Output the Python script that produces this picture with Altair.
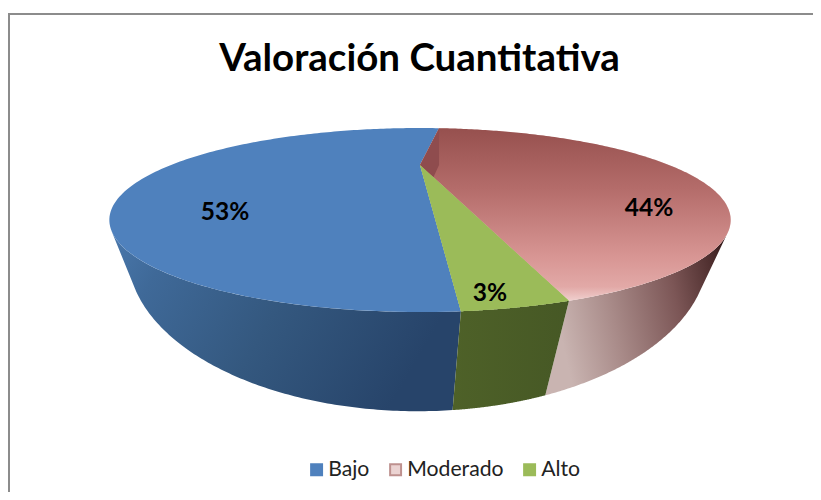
import numpy as np
import pandas as pd
import altair as alt

TITLE = "Valoración Cuantitativa"
CATEGORIES = ["Bajo", "Moderado", "Alto"]
SHARES = [53, 44, 3]
SHARE_LABELS = ["53%", "44%", "3%"]

W, H = 805, 484
# camera of the tilted pie: upper rim and lower rim
CX, CY, A, B, K = 420.0, 165.0, 249.0, 59.1, 0.598
LOW_CX, LOW_CY, LOW_A, LOW_B, LOW_K = 418.0, 171.0, 246.0, 112.9, 0.53
START = 7.0  # where Moderado begins, clockwise from the far side


def top(theta):
    t = np.radians(theta)
    w = 1 + K * np.cos(t)
    return CX + A * np.sin(t) / w, CY - B * np.cos(t) / w


def bottom(theta):
    t = np.radians(theta)
    w = 1 + LOW_K * np.cos(t)
    return LOW_CX + LOW_A * np.sin(t) / w, LOW_CY - LOW_B * np.cos(t) / w


def frame(xs, ys):
    return pd.DataFrame({"x": xs, "y": ys, "i": range(len(xs))})


def arc(a0, a1, n=120):
    return np.linspace(a0, a1, n)


# slice angles from the shares, clockwise order: Moderado, Alto, Bajo
mod_a0 = START
mod_a1 = mod_a0 + SHARES[1] * 3.6
alt_a1 = mod_a1 + SHARES[2] * 3.6
baj_a1 = alt_a1 + SHARES[0] * 3.6


def wedge(a0, a1):
    xs, ys = top(arc(a0, a1, 160))
    return frame(np.r_[CX, xs], np.r_[CY, ys])


def wall(t0, t1, b0, b1):
    xt, yt = top(arc(t0, t1))
    xb, yb = bottom(arc(b0, b1))
    return frame(np.r_[xt, xb[::-1]], np.r_[yt, yb[::-1]])


def silhouette(nx):
    """Common tangent of both rims on the side that the normal (nx, 0) faces."""
    grid = np.linspace(0, 360, 3601)
    n = np.array([nx, 0.0])
    for _ in range(12):
        tx, ty = top(grid)
        bx, by = bottom(grid)
        t1 = grid[np.argmax(n[0] * tx + n[1] * ty)]
        t2 = grid[np.argmax(n[0] * bx + n[1] * by)]
        p1, p2 = np.array(top(t1)), np.array(bottom(t2))
        d = (p2 - p1) / np.linalg.norm(p2 - p1)
        n = np.array([d[1], -d[0]])
        if n[0] * nx < 0:
            n = -n
    return t1, t2


right_t, right_b = silhouette(1.0)
left_t, left_b = silhouette(-1.0)


def grad(stops, x1=0, y1=0, x2=1, y2=0):
    return alt.LinearGradient(
        gradient="linear", x1=x1, y1=y1, x2=x2, y2=y2,
        stops=[alt.GradientStop(offset=o, color=c) for o, c in stops],
    )


X_SCALE = alt.Scale(domain=[8, 8 + W])
Y_SCALE = alt.Scale(domain=[8 + H, 8])
X = alt.X("x:Q", scale=X_SCALE, axis=None)
Y = alt.Y("y:Q", scale=Y_SCALE, axis=None)


def poly(df, fill):
    return alt.Chart(df).mark_line(fill=fill, strokeWidth=0, clip=False).encode(
        x=X, y=Y, order=alt.Order("i:Q"))


blue_wall = poly(wall(alt_a1, left_t, alt_a1, left_b),
                 grad([(0, "#27446A"), (0.45, "#34587F"), (0.82, "#3F6998"), (1, "#4A78AC")], 1, 0.3, 0, 0))
red_wall = poly(wall(right_t, mod_a1, right_b, mod_a1),
                grad([(0, "#2E1616"), (0.12, "#4E2E2E"), (0.35, "#7C5656"), (0.7, "#A88A88"), (1, "#C9B4B1")], 1, 0, 0, 0.2))
green_wall = poly(wall(mod_a1, alt_a1, mod_a1, alt_a1), grad([(0, "#4E6128"), (1, "#465825")]))

# top faces carry the legend colours
tops = []
for name, (a0, a1) in zip(CATEGORIES, [(alt_a1, baj_a1), (mod_a0, mod_a1), (mod_a1, alt_a1)]):
    d = wedge(a0, a1)
    d["name"] = name
    tops.append(d)
top_df = pd.concat(tops)
legend = alt.Legend(
    title=None, orient="none", legendX=298, legendY=451, direction="horizontal",
    columns=3, symbolType="square", symbolSize=120, symbolStrokeWidth=2,
    labelFont="Lato", labelFontSize=21.2, labelColor="#222222",
    columnPadding=15, labelOffset=1,
)
top_faces = alt.Chart(top_df).mark_line(strokeWidth=0, clip=False).encode(
    x=X, y=Y, order=alt.Order("i:Q"),
    fill=alt.Fill("name:N", scale=alt.Scale(domain=CATEGORIES, range=["#4F81BD", "#EBD3D2", "#9BBB59"]), legend=legend),
    stroke=alt.Stroke("name:N", scale=alt.Scale(domain=CATEGORIES, range=["#4F81BD", "#BE918F", "#9BBB59"]), legend=legend),
)

red_grad = poly(
    wedge(mod_a0, mod_a1),
    grad([(0, "#96504E"), (0.35, "#B46C6A"), (0.75, "#D89694"), (0.92, "#E2A9A7"), (1, "#F0CFCE")], 0.5, 0, 0.5, 1),
)

# dark inner wall of the Moderado slice, next to the apex
rim_x, rim_y = top(mod_a0)
end_x, end_y = top(mod_a1)
inner = poly(
    frame([CX, rim_x, rim_x, CX + 0.09 * (end_x - CX)],
          [CY, rim_y, CY, CY + 0.09 * (end_y - CY)]),
    "#8F4C4E",
)
green_top = poly(wedge(mod_a1, alt_a1), "#9BBB59")

frame_v = alt.Chart(pd.DataFrame({"v": [0]})).mark_rule(color="#8C8C8C", strokeWidth=2).encode(
    x=alt.value(1), y=alt.value(6), y2=alt.value(H))
frame_h = alt.Chart(pd.DataFrame({"v": [0]})).mark_rule(color="#8C8C8C", strokeWidth=2).encode(
    x=alt.value(0), x2=alt.value(W), y=alt.value(6))


def label(text, px, py):
    return alt.Chart(pd.DataFrame({"t": [text]})).mark_text(
        font="Lato", fontWeight="bold", fontSize=24.5, color="#000000", align="center", baseline="middle"
    ).encode(x=alt.datum(px, scale=X_SCALE), y=alt.datum(py, scale=Y_SCALE), text="t:N")


labels = [label(SHARE_LABELS[0], 225, 213), label(SHARE_LABELS[1], 649, 209), label(SHARE_LABELS[2], 490, 294)]

chart = alt.layer(
    frame_v, frame_h, blue_wall, red_wall, green_wall, top_faces, red_grad, inner, green_top, *labels
).properties(
    width=W, height=H, padding=0,
    autosize=alt.AutoSizeParams(type="none"),
    title=alt.TitleParams(TITLE, font="Lato", fontWeight="bold", fontSize=38.5, color="#000000",
                          anchor="middle", frame="group", dx=9, offset=-101, baseline="alphabetic"),
).configure_view(stroke=None).resolve_scale(x="shared", y="shared")

chart.save("out.html", embed_options={"renderer": "svg", "actions": False})
